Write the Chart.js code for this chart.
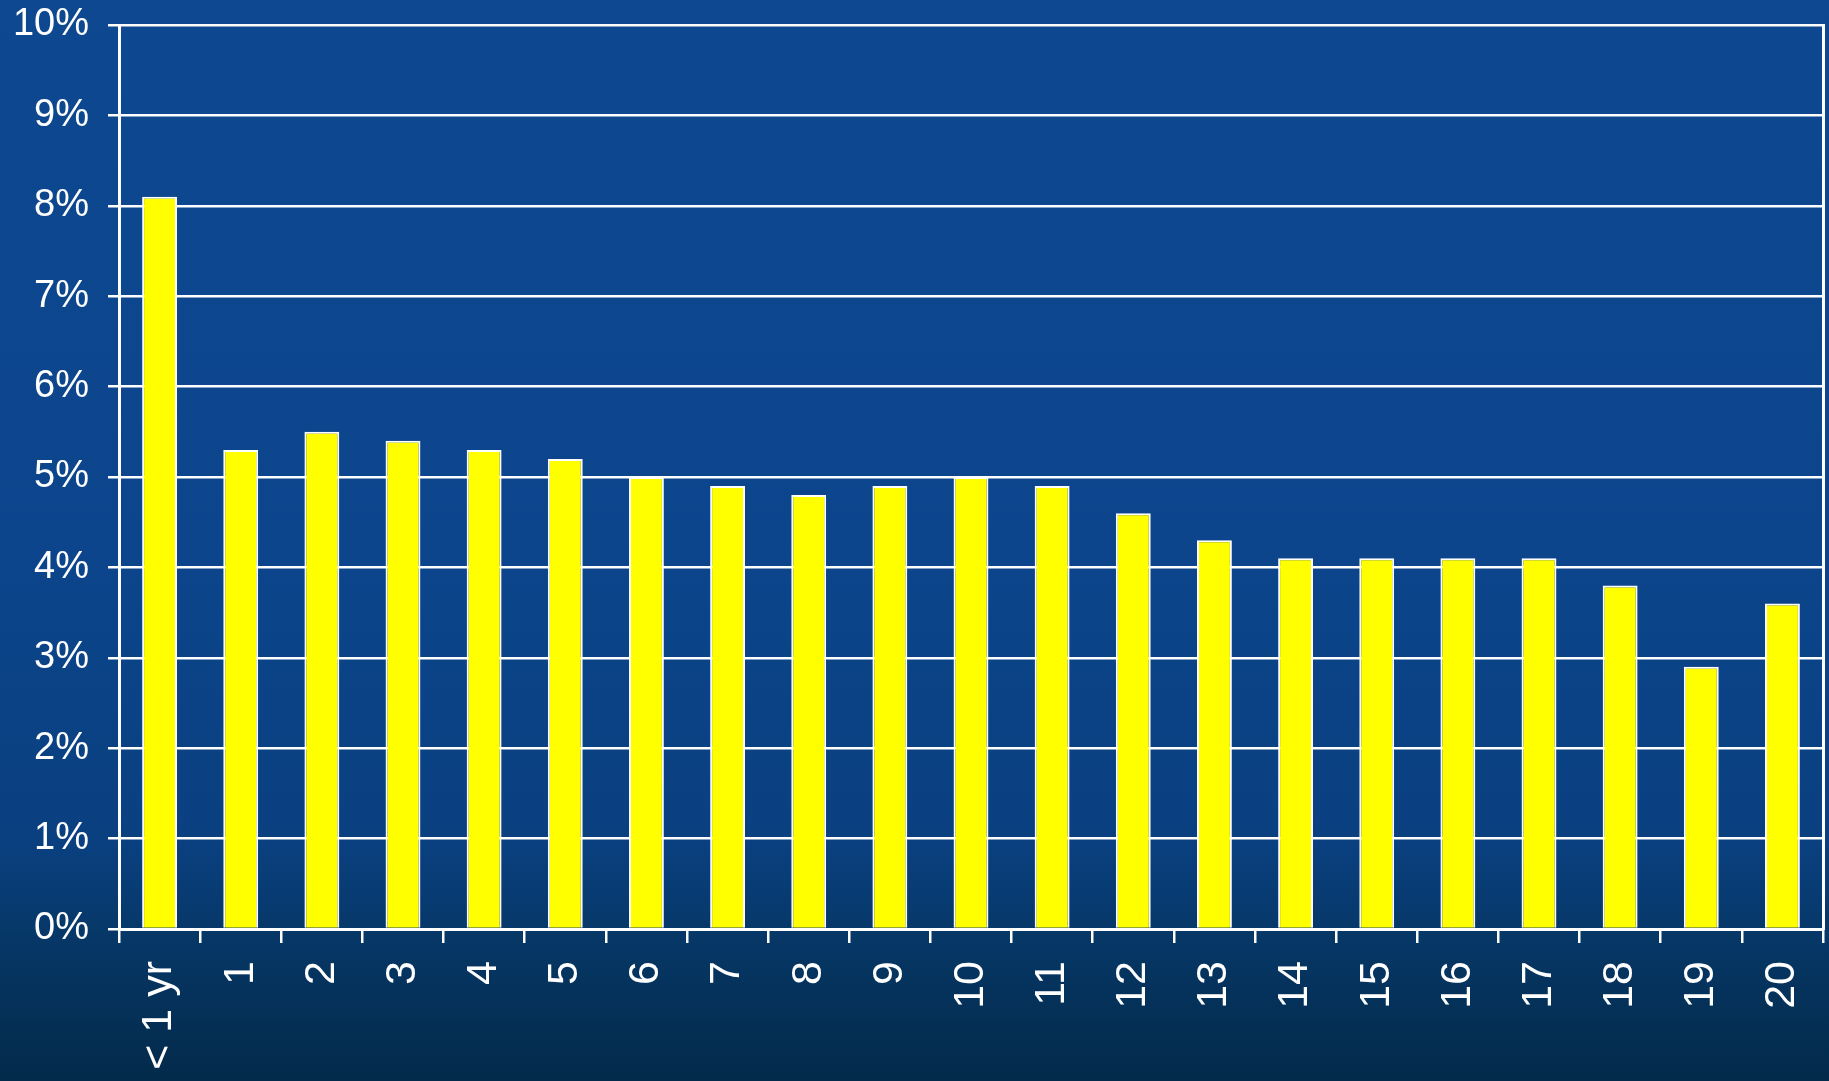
<!DOCTYPE html>
<html>
<head>
<meta charset="utf-8">
<script src="https://cdn.jsdelivr.net/npm/chart.js@4.4.1/dist/chart.umd.min.js"></script>
<style>
  html, body { margin: 0; padding: 0; width: 1829px; height: 1081px; overflow: hidden; background: #0C4588; }
  #wrap { position: relative; width: 1829px; height: 1081px; }
</style>
</head>
<body>
<div id="wrap"><canvas id="c" width="1829" height="1081"></canvas></div>
<script>
const categories = ["< 1 yr", "1", "2", "3", "4", "5", "6", "7", "8", "9", "10", "11", "12", "13", "14", "15", "16", "17", "18", "19", "20"];
const shareValues = [8.1, 5.3, 5.5, 5.4, 5.3, 5.2, 5.0, 4.9, 4.8, 4.9, 5.0, 4.9, 4.6, 4.3, 4.1, 4.1, 4.1, 4.1, 3.8, 2.9, 3.6];
const yTickValues = [0, 1, 2, 3, 4, 5, 6, 7, 8, 9, 10];

const bgPlugin = {
  id: 'bg',
  beforeDraw(chart) {
    const ctx = chart.ctx;
    const h = chart.height, w = chart.width;
    const g = ctx.createLinearGradient(0, 0, 0, h);
    g.addColorStop(0, '#0D4890');
    g.addColorStop(0.5, '#0C458C');
    g.addColorStop(0.78, '#0A4080');
    g.addColorStop(0.87, '#063766');
    g.addColorStop(1, '#032A4A');
    ctx.save();
    ctx.fillStyle = g;
    ctx.fillRect(0, 0, w, h);
    ctx.restore();
  }
};

function zeroPad(scale) {
  scale.paddingTop = 0; scale.paddingBottom = 0;
  scale.paddingLeft = 0; scale.paddingRight = 0;
}

new Chart(document.getElementById('c'), {
  type: 'bar',
  data: {
    labels: categories,
    datasets: [{
      data: shareValues,
      backgroundColor: '#FFFF00',
      borderColor: '#FFFFFF',
      borderWidth: 2,
      borderSkipped: 'bottom',
      barPercentage: 0.43,
      categoryPercentage: 1.0
    }]
  },
  options: {
    responsive: false,
    animation: false,
    devicePixelRatio: 1,
    layout: { padding: { top: 25, right: 6, left: 0, bottom: 0 } },
    plugins: { legend: { display: false }, tooltip: { enabled: false }, title: { display: false } },
    scales: {
      x: {
        offset: true,
        grid: { display: true, offset: true, drawOnChartArea: false, drawTicks: true, tickLength: 14, color: '#FFFFFF', lineWidth: 2.5 },
        border: { display: true, color: '#FFFFFF', width: 3 },
        ticks: {
          color: '#FFFFFF',
          font: { family: '"Liberation Sans", Arial, sans-serif', size: 43 },
          minRotation: 90, maxRotation: 90, autoSkip: false, padding: 18
        },
        afterFit(scale) { scale.height = 152; zeroPad(scale); }
      },
      y: {
        min: 0, max: 10,
        afterBuildTicks(scale) { scale.ticks = yTickValues.map(v => ({ value: v })); },
        grid: { color: '#FFFFFF', lineWidth: 2.5, drawTicks: true, tickLength: 11 },
        border: { display: true, color: '#FFFFFF', width: 3 },
        ticks: {
          color: '#FFFFFF',
          font: { family: '"Liberation Sans", Arial, sans-serif', size: 38 },
          padding: 19,
          callback: v => v + '%'
        },
        afterFit(scale) { scale.width = 119; zeroPad(scale); }
      },
      y2: {
        position: 'right',
        min: 0, max: 10,
        grid: { display: false },
        ticks: { display: false },
        border: { display: true, color: '#FFFFFF', width: 3 },
        afterFit(scale) { scale.width = 0; zeroPad(scale); }
      }
    }
  },
  plugins: [bgPlugin]
});
</script>
</body>
</html>
